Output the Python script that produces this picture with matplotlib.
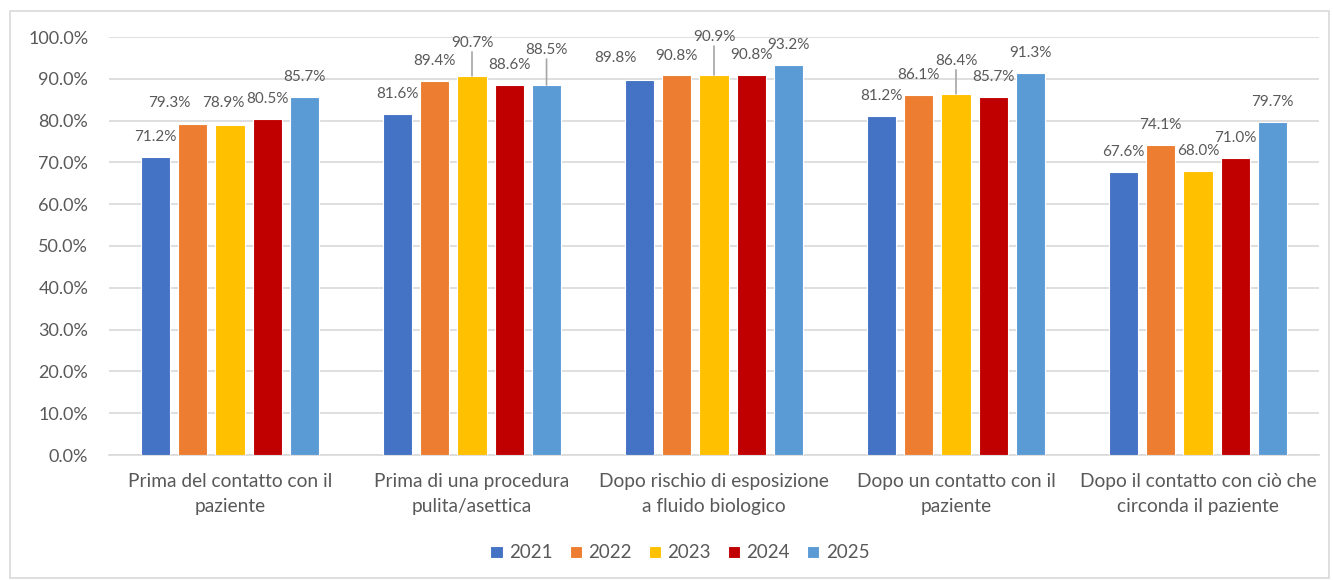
import matplotlib
matplotlib.use("Agg")
import matplotlib.pyplot as plt
from matplotlib.patches import Rectangle
from matplotlib.ticker import PercentFormatter
import numpy as np

categories = [
    "Prima del contatto con il\npaziente",
    "Prima di una procedura\npulita/asettica",
    "Dopo rischio di esposizione\na fluido biologico",
    "Dopo un contatto con il\npaziente",
    "Dopo il contatto con ciò che\ncirconda il paziente",
]
years = ["2021", "2022", "2023", "2024", "2025"]
v2021 = [71.2, 81.6, 89.8, 81.2, 67.6]
v2022 = [79.3, 89.4, 90.8, 86.1, 74.1]
v2023 = [78.9, 90.7, 90.9, 86.4, 68.0]
v2024 = [80.5, 88.6, 90.8, 85.7, 71.0]
v2025 = [85.7, 88.5, 93.2, 91.3, 79.7]
series = [v2021, v2022, v2023, v2024, v2025]

colors = ["#4472C4", "#ED7D31", "#FFC000", "#C00000", "#5B9BD5"]
text_color = "#595959"
grid_color = "#D9D9D9"

plt.rcParams["font.family"] = ["Lato", "DejaVu Sans"]

W, H = 1333, 580
fig = plt.figure(figsize=(W / 100, H / 100), dpi=100)
ax = fig.add_axes([109 / W, 1 - 455 / H, 1210 / W, 418 / H])

slot = 0.154
bar_w = 0.12
x = np.arange(len(categories))

# label placement: (series, group) -> (dx, dy, leader) in pixels
default_dy = 20
label_shift = {
    (1, 0): (-23, 21, False),
    (2, 0): (-7, 22, False),
    (2, 1): (0, 33, True),
    (4, 1): (0, 35, True),
    (0, 2): (-24, 22, False),
    (1, 2): (0, 19, False),
    (2, 2): (0, 38, True),
    (2, 3): (0, 33, True),
}

for j, (vals, col, yr) in enumerate(zip(series, colors, years)):
    xs = x + (j - 2) * slot
    fracs = [v / 100 for v in vals]
    ax.bar(xs, fracs, width=bar_w, color=col, edgecolor="white",
           linewidth=0.8, label=yr, zorder=3)
    for i, (xi, f, v) in enumerate(zip(xs, fracs, vals)):
        dx, dy, leader = label_shift.get((j, i), (0, default_dy, False))
        ax.annotate(f"{v:.1f}%", xy=(xi, f), xytext=(dx, dy),
                    textcoords="offset pixels", ha="center", va="center",
                    fontsize=11, color=text_color, zorder=5)
        if leader:
            ax.annotate("", xy=(xi, f), xytext=(dx, dy - 9),
                        textcoords="offset pixels",
                        arrowprops=dict(arrowstyle="-", color="#A6A6A6",
                                        lw=1.2, shrinkA=0, shrinkB=0),
                        zorder=4)

ax.set_xlim(-0.5, len(categories) - 0.5)
ax.set_ylim(0, 1.0)
ax.set_yticks(np.arange(0, 1.01, 0.1))
ax.yaxis.set_major_formatter(PercentFormatter(xmax=1.0, decimals=1))
ax.grid(axis="y", color=grid_color, linewidth=1.2, zorder=0)
ax.set_axisbelow(True)
for s in ["top", "right", "left"]:
    ax.spines[s].set_visible(False)
ax.spines["bottom"].set_color(grid_color)
ax.spines["bottom"].set_linewidth(1.2)

ax.set_xticks(x)
ax.set_xticklabels(categories, fontsize=13.8, color=text_color, linespacing=1.55)
ax.tick_params(axis="x", length=0, pad=13)
ax.tick_params(axis="y", length=0, pad=15, labelsize=13, labelcolor=text_color)

leg = fig.legend(loc="center", bbox_to_anchor=(0.51, 1 - 553 / H), ncol=5,
                 frameon=False, fontsize=13.5, handlelength=0.65,
                 handleheight=0.65, handletextpad=0.35, columnspacing=0.9)
for t in leg.get_texts():
    t.set_color(text_color)

fig.patches.append(Rectangle((10 / W, 2 / H), (W - 14) / W, (H - 13) / H,
                             transform=fig.transFigure, fill=False,
                             edgecolor="#D9D9D9", linewidth=1.2))

fig.savefig("out.png", dpi=100, facecolor="white")
